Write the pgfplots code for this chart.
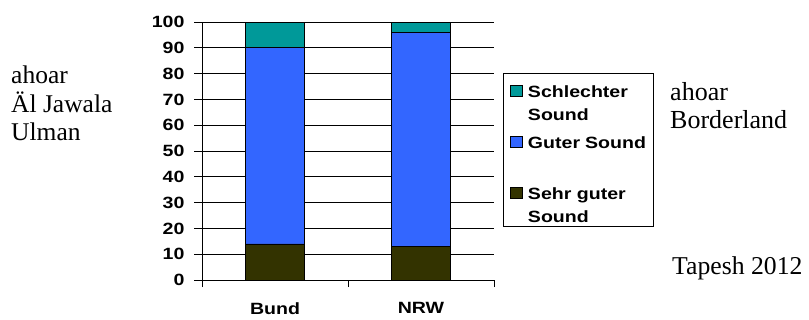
\documentclass[border=0pt]{standalone}
\usepackage{fontspec}
\setmainfont{Liberation Serif}
\newfontfamily\arialw[FakeStretch=1.2]{Liberation Sans}
\usepackage{pgfplots}
\pgfplotsset{compat=1.18}
\definecolor{cTeal}{RGB}{0,153,153}
\definecolor{cBlue}{RGB}{51,102,255}
\definecolor{cDark}{RGB}{51,51,0}
\newcommand{\lfont}{\arialw\bfseries\fontsize{16.3}{23.3}\selectfont}
\begin{document}
\begin{tikzpicture}
\path[use as bounding box] (0pt,0pt) rectangle (809pt,319pt);
\begin{axis}[
  at={(202pt,39pt)}, anchor=south west,
  scale only axis, width=292pt, height=258pt,
  xmin=-0.5, xmax=1.5, ymin=0, ymax=100,
  ybar stacked, bar width=59pt,
  xtick={0,1}, xticklabels={Bund,NRW},
  minor xtick={-0.5,0.5,1.5},
  ytick={0,10,...,100},
  ymajorgrids,
  major grid style={black, line width=0.7pt},
  axis x line*=bottom, axis y line*=left,
  axis line style={-, black, line width=0.8pt},
  tick align=outside,
  major tick length=8pt, minor tick length=7pt,
  major x tick style={draw=none},
  minor x tick style={black, line width=0.8pt},
  major y tick style={black, line width=0.7pt},
  /pgf/number format/assume math mode=true,
  tick label style={font=\lfont},
  xticklabel style={yshift=-11pt},
  yticklabel style={xshift=-6pt},
  reverse legend,
  legend cell align=left,
  legend image code/.code={\draw[#1,draw=black,line width=0.6pt] (0pt,2.3pt) rectangle (11.5pt,14pt);},
  legend style={at={(1.03,0.802)}, anchor=north west, draw=black, line width=0.8pt,
    inner xsep=7pt, inner ysep=0pt, row sep=0pt,
    nodes={inner sep=0pt, text height=23.7pt, text depth=27.3pt},
    /tikz/every odd column/.append style={column sep=5.7pt}},
]
\addplot[fill=cDark, draw=black, line width=0.7pt] coordinates {(0,14) (1,13)};
\addlegendentry{\parbox[t]{118pt}{\lfont Sehr guter\\Sound}}
\addplot[fill=cBlue, draw=black, line width=0.7pt] coordinates {(0,76) (1,83)};
\addlegendentry{\parbox[t]{118pt}{\lfont Guter Sound}}
\addplot[fill=cTeal, draw=black, line width=0.7pt] coordinates {(0,10) (1,4)};
\addlegendentry{\parbox[t]{118pt}{\lfont Schlechter\\Sound}}
\end{axis}
\node[anchor=base west, align=left, inner sep=0pt, font=\fontsize{25.5}{28.5}\selectfont] at (11pt,178pt) {ahoar\\Äl Jawala\\Ulman};
\node[anchor=base west, align=left, inner sep=0pt, font=\fontsize{26}{28.5}\selectfont] at (670pt,190pt) {ahoar\\Borderland};
\node[anchor=base west, inner sep=0pt, font=\fontsize{25.7}{29}\selectfont] at (672pt,44.5pt) {Tapesh 2012};
\end{tikzpicture}
\end{document}
